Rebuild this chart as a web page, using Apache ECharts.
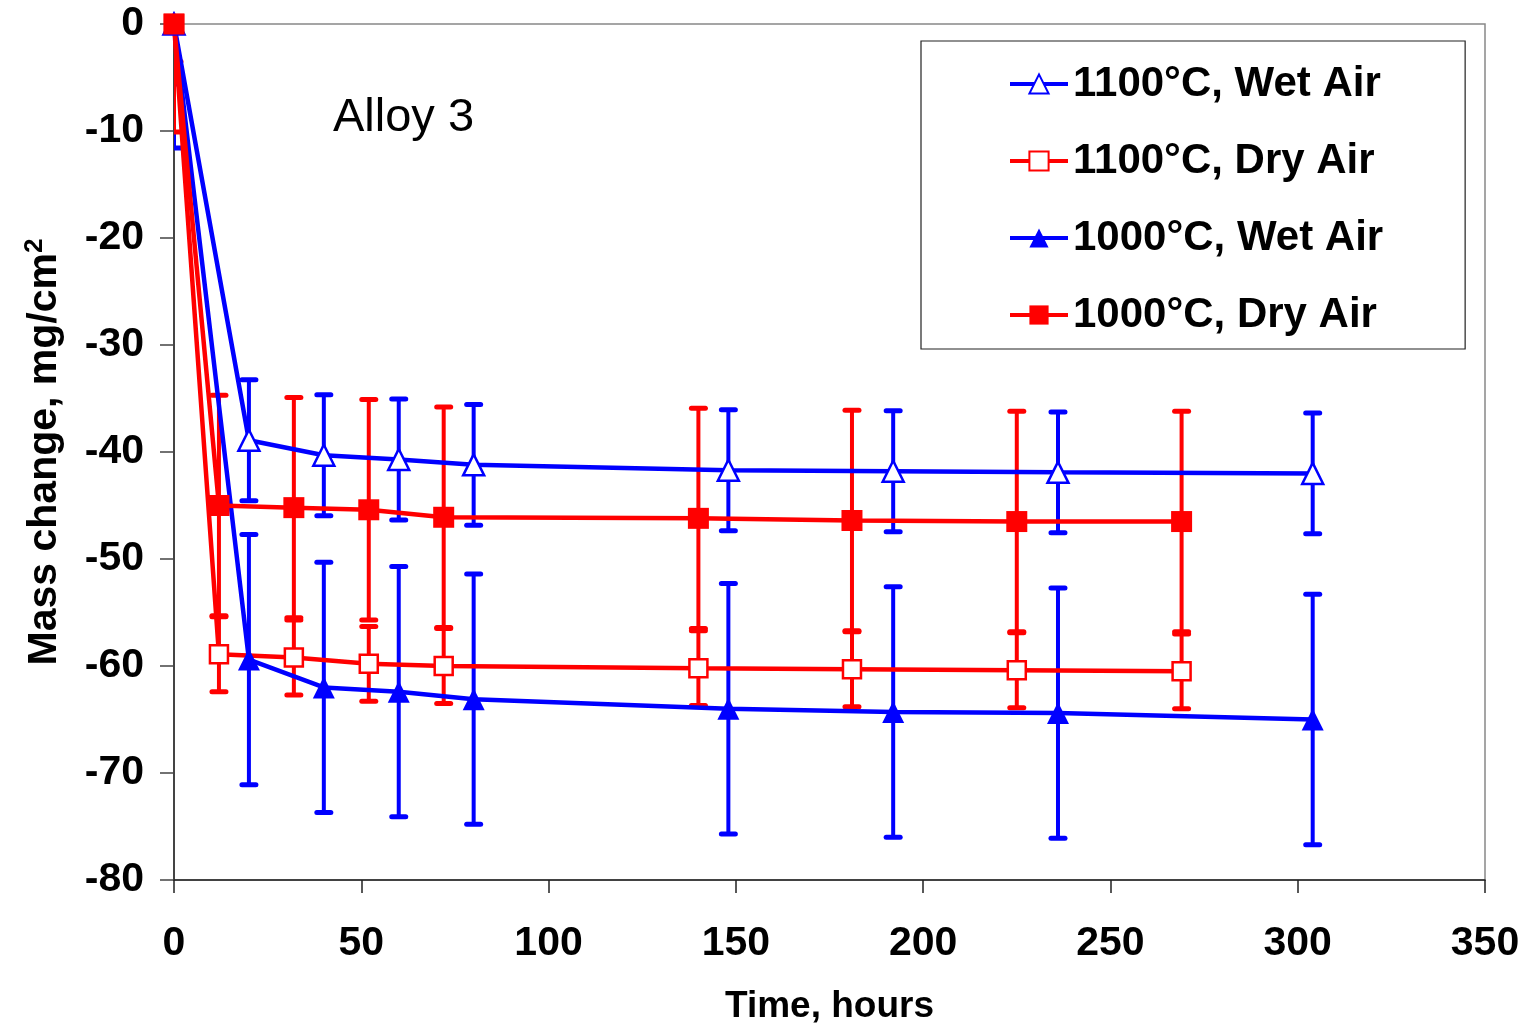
<!DOCTYPE html>
<html>
<head>
<meta charset="utf-8">
<script src="https://cdn.jsdelivr.net/npm/echarts@6/dist/echarts.min.js"></script>
<style>
html,body{margin:0;padding:0;background:#fff;}
#chart{width:1524px;height:1027px;}
</style>
</head>
<body>
<div id="chart"></div>
<script>
// ---- data ----
const seriesNames = ['1100°C, Wet Air', '1100°C, Dry Air', '1000°C, Wet Air', '1000°C, Dry Air'];
const timeWet = [0, 20, 40, 60, 80, 148, 192, 236, 304];
const timeDry = [0, 12, 32, 52, 72, 140, 181, 225, 269];
const wet1100 = [0, -38.9, -40.3, -40.7, -41.2, -41.7, -41.8, -41.9, -42.0];
const wet1100Err = [5.6, 5.65, 5.65, 5.65, 5.65, 5.65, 5.65, 5.65, 5.65];
const dry1100 = [0, -58.9, -59.2, -59.8, -60.0, -60.2, -60.3, -60.4, -60.5];
const dry1100Err = [3.5, 3.5, 3.5, 3.5, 3.5, 3.5, 3.5, 3.5, 3.5];
const wet1000 = [0, -59.4, -62.0, -62.4, -63.1, -64.0, -64.3, -64.4, -65.0];
const wet1000Err = [11.6, 11.7, 11.7, 11.7, 11.7, 11.7, 11.7, 11.7, 11.7];
const dry1000 = [0, -45.0, -45.2, -45.4, -46.1, -46.2, -46.4, -46.5, -46.5];
const dry1000Err = [10.1, 10.3, 10.3, 10.3, 10.3, 10.3, 10.3, 10.3, 10.3];
const xTicks = [0, 50, 100, 150, 200, 250, 300, 350];
const yTicks = [0, -10, -20, -30, -40, -50, -60, -70, -80];

const BLUE = '#0000ff', RED = '#ff0000';
const FONT = 'Arial, "Liberation Sans", sans-serif';

function pairs(xs, ys) { return xs.map((x, i) => [x, ys[i]]); }
function errData(xs, ys, es) { return xs.map((x, i) => [x, ys[i] - es[i], ys[i] + es[i]]); }

function errSeries(xs, ys, es, color) {
  return {
    type: 'custom',
    clip: true,
    silent: true,
    data: errData(xs, ys, es),
    encode: { x: 0, y: [1, 2] },
    renderItem: function (params, api) {
      const x = api.value(0);
      const lo = api.coord([x, api.value(1)]);
      const hi = api.coord([x, api.value(2)]);
      const cw = 7;
      const capStyle = { stroke: color, lineWidth: 5, lineCap: 'round' };
      return {
        type: 'group',
        children: [
          { type: 'line', shape: { x1: lo[0], y1: lo[1], x2: hi[0], y2: hi[1] }, style: { stroke: color, lineWidth: 4 } },
          { type: 'line', shape: { x1: lo[0] - cw, y1: lo[1], x2: lo[0] + cw, y2: lo[1] }, style: capStyle },
          { type: 'line', shape: { x1: hi[0] - cw, y1: hi[1], x2: hi[0] + cw, y2: hi[1] }, style: capStyle }
        ]
      };
    }
  };
}

function lineSeries(name, xs, ys, color, symbol, filled, size) {
  return {
    name: name,
    type: 'line',
    data: pairs(xs, ys),
    symbol: symbol,
    symbolSize: size,
    showAllSymbol: true,
    lineStyle: { color: color, width: 4.5 },
    itemStyle: filled ? { color: color, borderColor: color, borderWidth: 0 } : { color: '#ffffff', borderColor: color, borderWidth: 2.5 },
    emphasis: { disabled: true }
  };
}

const chart = echarts.init(document.getElementById('chart'), null, { renderer: 'canvas' });
chart.setOption({
  animation: false,
  backgroundColor: '#ffffff',
  textStyle: { fontFamily: FONT },
  title: {
    text: 'Alloy 3',
    left: 328, top: 90,
    textStyle: { fontFamily: FONT, fontSize: 47, fontWeight: 'normal', color: '#000' }
  },
  grid: { left: 174, top: 24, right: 39, bottom: 147, show: true, borderColor: '#888888', borderWidth: 1.5,
          backgroundColor: 'transparent', containLabel: false, outerBoundsMode: 'none' },
  legend: {
    data: seriesNames,
    orient: 'vertical',
    left: 921, top: 41,
    itemWidth: 58, itemHeight: 24, itemGap: 35,
    padding: [22, 82, 13, 87],
    borderColor: '#222', borderWidth: 1.2,
    backgroundColor: '#fff',
    lineStyle: { width: 4 },
    textStyle: { fontFamily: FONT, fontSize: 42, fontWeight: 'bold', color: '#000', lineHeight: 40 },
    selectedMode: false
  },
  xAxis: {
    type: 'value', min: 0, max: 350, interval: 50,
    name: 'Time, hours', nameLocation: 'middle', nameGap: 108,
    nameTextStyle: { fontFamily: FONT, fontSize: 37, fontWeight: 'bold', color: '#000' },
    axisLine: { show: true, onZero: false, lineStyle: { color: '#222', width: 1.5 } },
    axisTick: { show: true, inside: false, length: 13, lineStyle: { color: '#222', width: 1.5 } },
    axisLabel: { margin: 43, fontFamily: FONT, fontSize: 41, fontWeight: 'bold', color: '#000',
      formatter: v => xTicks.includes(v) ? String(v) : '' },
    splitLine: { show: false }
  },
  yAxis: {
    type: 'value', min: -80, max: 0, interval: 10,
    name: '{m|Mass change, mg/cm}{s|2}', nameLocation: 'middle', nameGap: 106,
    nameTextStyle: { fontFamily: FONT, fontSize: 41, fontWeight: 'bold', color: '#000',
      rich: { m: { fontFamily: FONT, fontSize: 41, fontWeight: 'bold', color: '#000' },
              s: { fontFamily: FONT, fontSize: 26, fontWeight: 'bold', color: '#000', verticalAlign: 'top', padding: [0, 0, 20, 0] } } },
    axisLine: { show: true, onZero: false, lineStyle: { color: '#444', width: 2 } },
    axisTick: { show: true, inside: false, length: 14, lineStyle: { color: '#444', width: 1.5 } },
    axisLabel: { margin: 30, fontFamily: FONT, fontSize: 41, fontWeight: 'bold', color: '#000',
      formatter: v => yTicks.includes(v) ? String(v) : '' },
    splitLine: { show: false }
  },
  series: [
    errSeries(timeWet, wet1100, wet1100Err, BLUE),
    lineSeries(seriesNames[0], timeWet, wet1100, BLUE, 'triangle', false, 21),
    errSeries(timeDry, dry1100, dry1100Err, RED),
    lineSeries(seriesNames[1], timeDry, dry1100, RED, 'rect', false, 18),
    errSeries(timeWet, wet1000, wet1000Err, BLUE),
    lineSeries(seriesNames[2], timeWet, wet1000, BLUE, 'triangle', true, 22),
    errSeries(timeDry, dry1000, dry1000Err, RED),
    lineSeries(seriesNames[3], timeDry, dry1000, RED, 'rect', true, 21)
  ]
});
</script>
</body>
</html>
